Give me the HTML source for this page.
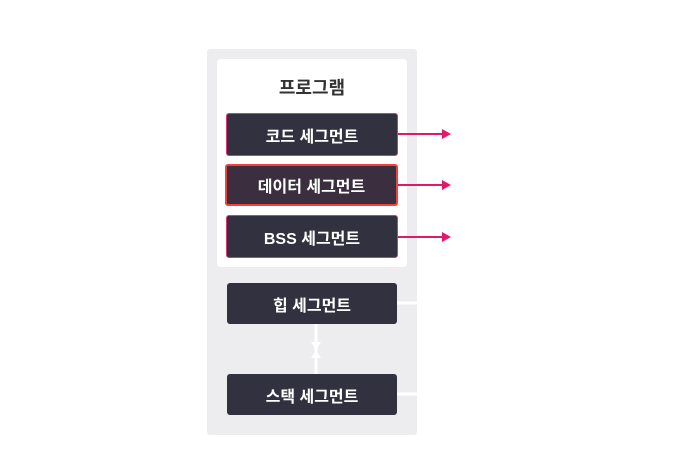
<!DOCTYPE html>
<html><head><meta charset="utf-8"><style>
body{margin:0;width:680px;height:460px;background:#fff;position:relative;font-family:"Liberation Sans","Noto Sans CJK KR",sans-serif;overflow:hidden}
.a{position:absolute;box-sizing:border-box}
.b{background:#32313f;color:#fff;font-weight:bold;font-size:16px;display:flex;align-items:center;justify-content:center;border-radius:3px}
.p{border:1px solid #e0357a}
</style></head><body>
<div class="a" style="left:207px;top:49px;width:210px;height:386px;background:#ededf0;border-radius:3px"></div>
<div class="a" style="left:217px;top:59px;width:190px;height:208px;background:#fff;border-radius:4px"></div>
<div class="a" style="left:217px;top:74px;width:190px;text-align:center;font-weight:bold;font-size:18px;color:#333">프로그램</div>
<div class="a b p" style="left:226px;top:113px;width:172px;height:43px">코드 세그먼트</div>
<div class="a b" style="left:225px;top:164px;width:173px;height:42px;background:#3b2f3f;border:2px solid #f0413f">데이터 세그먼트</div>
<div class="a b p" style="left:226px;top:215px;width:172px;height:43px">BSS 세그먼트</div>
<div class="a b" style="left:227px;top:283px;width:170px;height:41px">힙 세그먼트</div>
<div class="a b" style="left:227px;top:374px;width:170px;height:41px">스택 세그먼트</div>
<svg class="a" style="left:0;top:0" width="680" height="460">
<g stroke="#e0196b" stroke-width="2" fill="#e0196b">
<line x1="398" y1="134" x2="443" y2="134"/><polygon points="442,129 451,134 442,139" stroke="none"/>
<line x1="398" y1="185" x2="443" y2="185"/><polygon points="442,180 451,185 442,190" stroke="none"/>
<line x1="398" y1="237" x2="443" y2="237"/><polygon points="442,232 451,237 442,242" stroke="none"/>
</g>
<g stroke="#fff" stroke-width="3" fill="#fff">
<line x1="397" y1="303" x2="417" y2="303"/>
<line x1="397" y1="394" x2="417" y2="394"/>
<line x1="316" y1="324" x2="316" y2="374"/>
<polygon points="311,342 321,342 316,350" stroke="none"/>
<polygon points="311,358 321,358 316,350" stroke="none"/>
</g>
</svg>
</body></html>
